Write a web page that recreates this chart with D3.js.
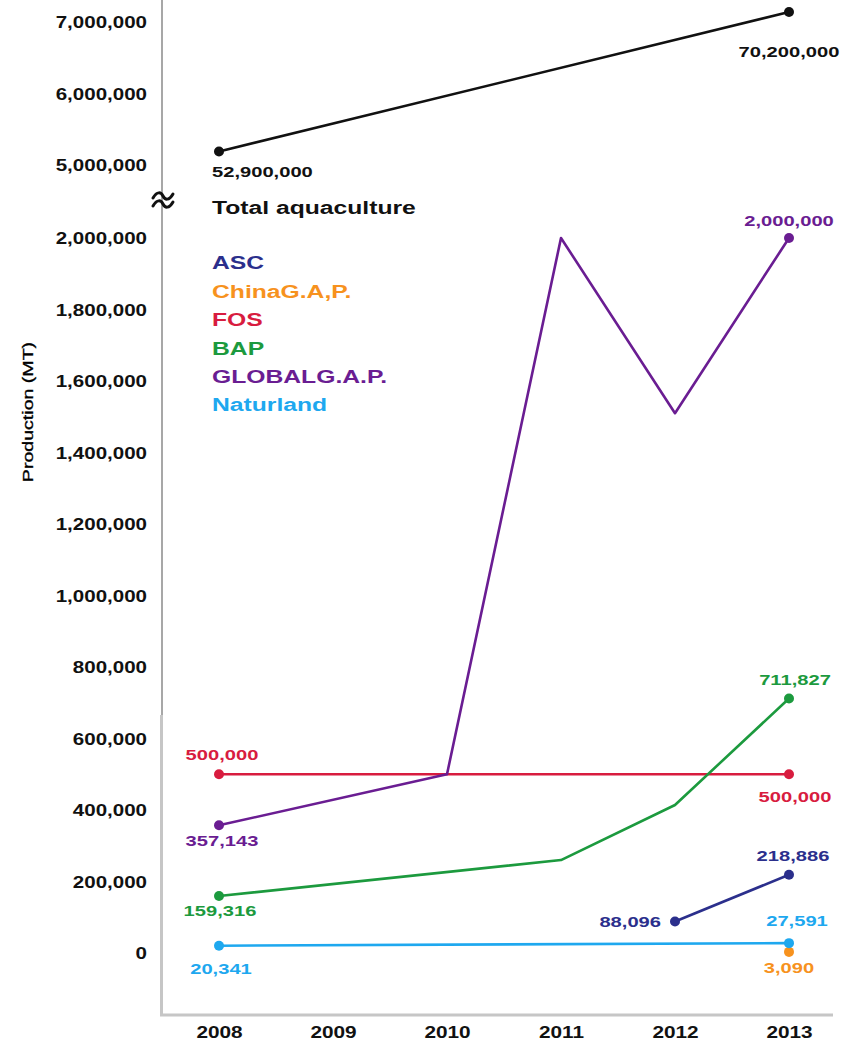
<!DOCTYPE html>
<html>
<head>
<meta charset="utf-8">
<script src="https://cdn.jsdelivr.net/npm/d3@7/dist/d3.min.js"></script>
<style>
  html, body { margin: 0; padding: 0; background: #fff; }
  svg { display: block; }
  text { font-family: "Liberation Sans", Arial, sans-serif; }
</style>
</head>
<body>
<svg id="chart" width="862" height="1042"></svg>
<script>
// ---------------- data ----------------
const years = [2008, 2009, 2010, 2011, 2012, 2013];
// Total aquaculture, plotted on the upper (broken) axis segment
const totalValues = [5190000, null, null, null, null, 7140000];
const totalLabels = ["52,900,000", "70,200,000"];
const ascValues = [null, null, null, null, 88096, 218886];
const chinaGapValues = [null, null, null, null, null, 3090];
const fosValues = [500000, null, null, null, null, 500000];
const bapValues = [159316, null, null, 260000, 414000, 711827];
const globalGapValues = [357143, null, 500000, 2000000, 1510000, 2000000];
const naturlandValues = [20341, null, null, null, null, 27591];
const legendNames = ["ASC", "ChinaG.A,P.", "FOS", "BAP", "GLOBALG.A.P.", "Naturland"];
const lowerTicks = [0, 200000, 400000, 600000, 800000, 1000000, 1200000, 1400000, 1600000, 1800000, 2000000];
const upperTicks = [5000000, 6000000, 7000000];
const yTitle = "Production (MT)";
const totalTitle = "Total aquaculture";

// ---------------- layout ----------------
const SX = 1.3; // horizontal text stretch of the wide original typeface
const colors = {
  total: "#111111",
  asc: "#2b2f8c",
  china: "#f7921e",
  fos: "#d81c3f",
  bap: "#1c9a3e",
  global: "#6a1d92",
  natur: "#1ea8ef"
};
const svg = d3.select("#chart");
const axisX = 162;

const x = d3.scalePoint().domain(years).range([219, 789]);
const yLow = d3.scaleLinear().domain([0, 2000000]).range([953, 238]);
const yUp = d3.scaleLinear().domain([5000000, 7000000]).range([165, 22]);

function txt(g, px, py, s, o) {
  o = o || {};
  return g.append("text")
    .attr("transform", `translate(${px},${py}) scale(${o.sx || SX},1)`)
    .attr("text-anchor", o.anchor || "start")
    .attr("dominant-baseline", "central")
    .attr("font-size", o.size || 15.5)
    .attr("font-weight", o.weight || "bold")
    .attr("fill", o.fill || "#111")
    .text(s);
}

// ---------------- axes lines ----------------
svg.append("line").attr("x1", axisX).attr("x2", axisX).attr("y1", 0).attr("y2", 716)
  .attr("stroke", "#8a8a8a").attr("stroke-width", 1.5);
svg.append("line").attr("x1", axisX - 0.5).attr("x2", axisX - 0.5).attr("y1", 715).attr("y2", 1016)
  .attr("stroke", "#c6c6c6").attr("stroke-width", 3);
svg.append("line").attr("x1", axisX - 2).attr("x2", 833).attr("y1", 1015).attr("y2", 1015)
  .attr("stroke", "#c6c6c6").attr("stroke-width", 3);

// y axis tick labels via d3 axes
const fmt = d3.format(",");
function styleAxis(g) {
  g.select(".domain").remove();
  g.selectAll(".tick line").remove();
  g.selectAll(".tick text")
    .attr("x", -15 / SX).attr("dy", null)
    .attr("dominant-baseline", "central")
    .attr("transform", `scale(${SX},1)`)
    .attr("font-family", '"Liberation Sans", Arial, sans-serif')
    .attr("font-size", 15.8).attr("font-weight", "bold").attr("fill", "#111");
}
svg.append("g").attr("transform", `translate(${axisX},0)`)
  .call(d3.axisLeft(yLow).tickValues(lowerTicks).tickFormat(fmt).tickSize(0))
  .call(styleAxis);
svg.append("g").attr("transform", `translate(${axisX},0)`)
  .call(d3.axisLeft(yUp).tickValues(upperTicks).tickFormat(fmt).tickSize(0))
  .call(styleAxis);

// x axis labels
const xAxis = svg.append("g").attr("transform", `translate(0,1015)`)
  .call(d3.axisBottom(x).tickSize(0).tickFormat(d3.format("d")));
xAxis.select(".domain").remove();
xAxis.selectAll(".tick text")
  .attr("y", 17).attr("dy", null).attr("dominant-baseline", "central")
  .attr("transform", `scale(${SX},1)`)
  .attr("font-family", '"Liberation Sans", Arial, sans-serif')
  .attr("font-size", 16).attr("font-weight", "bold").attr("fill", "#111");

// axis break symbol (two tildes drawn across the axis)
const brk = svg.append("g").attr("transform", `translate(${axisX + 1},200)`);
[-4, 4].forEach(dy => {
  brk.append("path")
    .attr("d", `M-10,${dy + 2} C-6,${dy - 5} -2,${dy - 4} 0,${dy} S6,${dy + 5} 10,${dy - 2}`)
    .attr("fill", "none").attr("stroke", "#111").attr("stroke-width", 3).attr("stroke-linecap", "round");
});

// y title
svg.append("text")
  .attr("transform", `translate(28,412) rotate(-90) scale(${SX + 0.05},1)`)
  .attr("text-anchor", "middle").attr("dominant-baseline", "central")
  .attr("font-size", 14.5).attr("fill", "#000")
  .attr("stroke", "#000").attr("stroke-width", 0.3)
  .text(yTitle);

// ---------------- series ----------------
function pts(vals, ys) {
  return years.map((yr, i) => ({ yr, v: vals[i] })).filter(d => d.v !== null)
    .map(d => ({ x: x(d.yr), y: ys(d.v), v: d.v }));
}
const line = d3.line().x(d => d.x).y(d => d.y);

const series = [
  { key: "total", vals: totalValues, ys: yUp, c: colors.total },
  { key: "fos", vals: fosValues, ys: yLow, c: colors.fos },
  { key: "global", vals: globalGapValues, ys: yLow, c: colors.global },
  { key: "bap", vals: bapValues, ys: yLow, c: colors.bap },
  { key: "asc", vals: ascValues, ys: yLow, c: colors.asc },
  { key: "china", vals: chinaGapValues, ys: yLow, c: colors.china },
  { key: "natur", vals: naturlandValues, ys: yLow, c: colors.natur }
];

const gS = svg.append("g");
const drawn = {};
series.forEach(s => {
  const p = pts(s.vals, s.ys);
  drawn[s.key] = p;
  if (p.length > 1) {
    gS.append("path").attr("d", line(p)).attr("fill", "none")
      .attr("stroke", s.c).attr("stroke-width", 2.6).attr("stroke-linejoin", "round");
  }
  const ends = p.length > 1 ? [p[0], p[p.length - 1]] : p;
  ends.forEach(e => {
    gS.append("circle").attr("cx", e.x).attr("cy", e.y).attr("r", 5).attr("fill", s.c);
  });
});

// ---------------- value labels ----------------
const gL = svg.append("g");
function first(k) { return drawn[k][0]; }
function last(k) { return drawn[k][drawn[k].length - 1]; }

txt(gL, first("total").x - 7, first("total").y + 20, totalLabels[0], { fill: colors.total });
txt(gL, last("total").x, last("total").y + 40, totalLabels[1], { anchor: "middle", fill: colors.total });

txt(gL, first("global").x + 3, first("global").y + 16, fmt(first("global").v), { anchor: "middle", fill: colors.global });
txt(gL, last("global").x, last("global").y - 17, fmt(last("global").v), { anchor: "middle", fill: colors.global });

txt(gL, first("bap").x + 1, first("bap").y + 15, fmt(first("bap").v), { anchor: "middle", fill: colors.bap });
txt(gL, last("bap").x + 6, last("bap").y - 19, fmt(last("bap").v), { anchor: "middle", fill: colors.bap });

txt(gL, first("fos").x + 3, first("fos").y - 19, fmt(first("fos").v), { anchor: "middle", fill: colors.fos });
txt(gL, last("fos").x + 6, last("fos").y + 23, fmt(last("fos").v), { anchor: "middle", fill: colors.fos });

txt(gL, first("asc").x - 14, first("asc").y, fmt(first("asc").v), { anchor: "end", fill: colors.asc });
txt(gL, last("asc").x + 4, last("asc").y - 19, fmt(last("asc").v), { anchor: "middle", fill: colors.asc });

txt(gL, first("natur").x + 2, first("natur").y + 23, fmt(first("natur").v), { anchor: "middle", fill: colors.natur });
txt(gL, last("natur").x + 8, last("natur").y - 22, fmt(last("natur").v), { anchor: "middle", fill: colors.natur });

txt(gL, last("china").x, last("china").y + 16, fmt(last("china").v), { anchor: "middle", fill: colors.china });

// ---------------- legend ----------------
txt(svg, 212, 208, totalTitle, { size: 19, fill: "#111" });
const legendColors = [colors.asc, colors.china, colors.fos, colors.bap, colors.global, colors.natur];
legendNames.forEach((n, i) => {
  txt(svg, 212, 263 + i * 28.4, n, { size: 19, fill: legendColors[i] });
});
</script>
</body>
</html>
